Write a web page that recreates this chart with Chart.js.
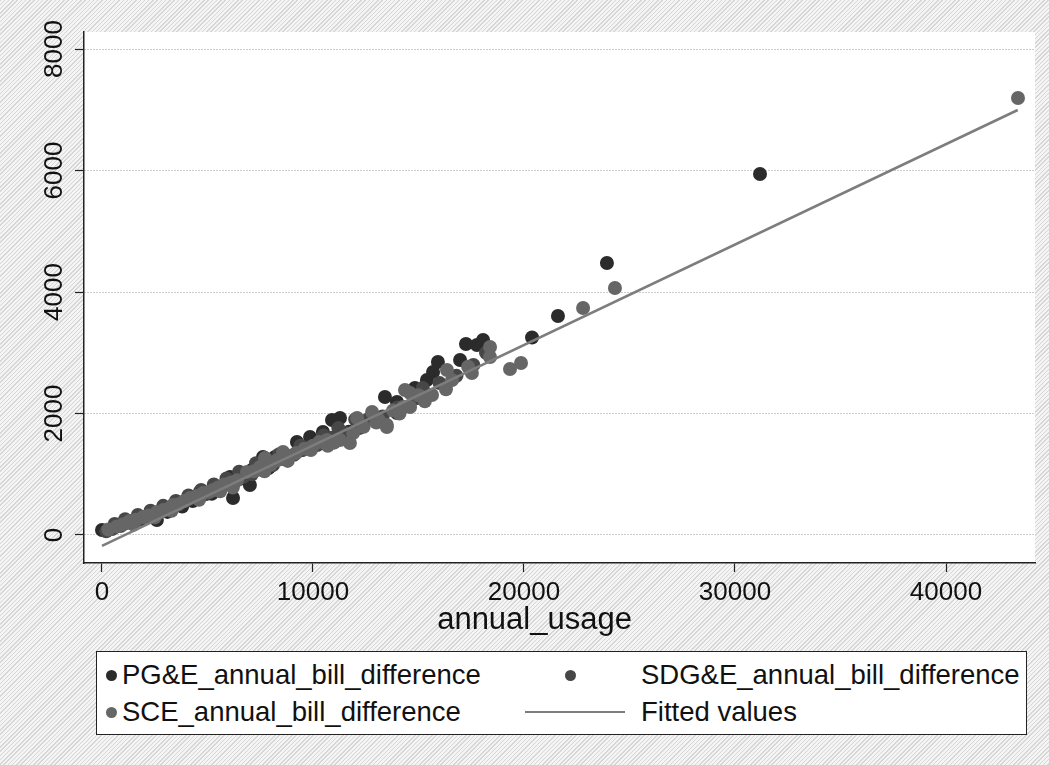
<!DOCTYPE html>
<html>
<head>
<meta charset="utf-8">
<script src="https://cdn.jsdelivr.net/npm/chart.js@4/dist/chart.umd.min.js"></script>
<style>
  html, body { margin: 0; padding: 0; }
  body {
    width: 1049px; height: 765px; position: relative; overflow: hidden;
    background: repeating-linear-gradient(135deg, #d6d6d6 0px, #d6d6d6 1px, #f4f4f4 1px, #f4f4f4 3px);
    font-family: "Liberation Sans", Arial, sans-serif;
  }
  #grafico { position: absolute; left: 0; top: 0; }
  #legenda {
    position: absolute; left: 96px; top: 651px; width: 929px; height: 82px;
    background: #fff; border: 1.5px solid #222;
  }
  .item { position: absolute; font-size: 27.5px; color: #111; line-height: 30px; white-space: nowrap; }
  .ponto { position: absolute; width: 11px; height: 11px; border-radius: 50%; }
  .linha { position: absolute; height: 2px; width: 100px; background: #7a7a7a; }
</style>
</head>
<body>
<canvas id="grafico" width="1049" height="765"></canvas>
<div id="legenda"></div>
<script>
var seriesLabels = ['PG&E_annual_bill_difference', 'SDG&E_annual_bill_difference', 'SCE_annual_bill_difference', 'Fitted values'];
var xTitulo = 'annual_usage';
var xTickValues = [0, 10000, 20000, 30000, 40000];
var yTickValues = [0, 2000, 4000, 6000, 8000];

var pgeUsage = [0, 600, 1330, 1800, 2300, 2600, 3100, 3800, 4300, 4640, 5200, 5700, 6070, 6210, 6600, 7010, 7100, 7630, 7900, 8200, 8600, 9240, 9500, 9860, 10470, 10900, 11000, 11280, 11700, 12300, 12900, 13410, 13980, 13980, 14830, 15400, 15690, 15920, 16970, 17250, 17770, 18060, 20380, 21610, 23930, 31185];
var pgeDiff = [82, 130, 214, 260, 310, 247, 380, 470, 560, 708, 680, 800, 955, 609, 930, 823, 1070, 1284, 1100, 1284, 1250, 1530, 1400, 1613, 1695, 1893, 1600, 1926, 1700, 1800, 1900, 2272, 2190, 2008, 2420, 2551, 2683, 2848, 2880, 3144, 3127, 3210, 3250, 3605, 4477, 5942];

var sdgeUsage = [200, 500, 600, 900, 1100, 1200, 1500, 1700, 1800, 2100, 2300, 2400, 2800, 2900, 3000, 3400, 3500, 3700, 4000, 4100, 4400, 4700, 4900, 5300, 5400, 5900, 5900, 6300, 6500, 6700, 7100, 7300, 7500, 7800, 8100, 8400, 8700, 9100, 9400, 9700, 10200, 10500, 10800, 11200, 11500, 12000, 12200, 12600, 13300, 14000, 14900, 15200, 16000, 16800, 17600, 18200];
var sdgeDiff = [60, 100, 180, 150, 260, 200, 240, 330, 270, 300, 400, 350, 390, 480, 450, 470, 560, 520, 570, 650, 620, 740, 670, 830, 760, 840, 930, 880, 1040, 960, 1000, 1180, 1080, 1250, 1150, 1330, 1260, 1320, 1470, 1440, 1480, 1640, 1600, 1760, 1680, 1900, 1760, 1900, 1950, 2100, 2250, 2420, 2500, 2620, 2800, 3000];

var sceUsage = [300, 700, 1000, 1300, 1500, 1600, 1940, 2200, 2500, 2600, 2900, 3200, 3300, 3360, 3600, 3900, 4170, 4500, 4600, 4800, 5100, 5260, 5500, 5600, 5800, 6100, 6200, 6400, 6870, 7200, 7490, 7700, 7720, 8000, 8300, 8580, 8800, 8900, 9200, 9600, 9900, 10000, 10300, 10660, 10700, 11000, 11280, 11750, 11900, 12090, 12400, 12800, 13000, 13100, 13500, 13500, 13800, 14100, 14270, 14360, 14600, 14600, 15000, 15300, 15640, 16300, 16350, 16590, 17350, 17530, 18390, 18390, 19336, 19858, 22800, 24310, 43412];
var sceDiff = [90, 140, 175, 230, 170, 250, 296, 320, 290, 378, 410, 440, 400, 494, 500, 560, 609, 640, 580, 690, 710, 741, 780, 720, 830, 860, 780, 900, 1037, 1050, 1119, 1050, 1267, 1160, 1230, 1366, 1220, 1300, 1350, 1420, 1400, 1470, 1530, 1564, 1470, 1520, 1564, 1514, 1680, 1926, 1780, 2025, 1850, 1900, 1811, 1778, 2050, 2000, 2107, 2387, 2337, 2107, 2300, 2200, 2304, 2400, 2716, 2551, 2770, 2667, 3095, 2930, 2732, 2831, 3737, 4066, 7193];

var fitUsage = [0, 43400];
var fitValues = [-181, 6996];

var cores = ['#2b2b2b', '#474747', '#666666', '#7d7d7d'];
var fonte = '"Liberation Sans", Arial, sans-serif';

function pontos(xs, ys) {
    return xs.map(function(x, i) { return { x: x, y: ys[i] }; });
}

// fundo branco so na area do grafico
var fundoArea = {
    id: 'fundoArea',
    beforeDraw: function(chart) {
        var a = chart.chartArea, ctx = chart.ctx;
        ctx.save();
        ctx.fillStyle = '#fff';
        ctx.fillRect(a.left, a.top, a.right - a.left, a.bottom - a.top);
        ctx.restore();
    }
};

// rotulos do eixo y na vertical e titulo do eixo x
var rotulos = {
    id: 'rotulos',
    afterDraw: function(chart) {
        var ctx = chart.ctx, sy = chart.scales.y, sx = chart.scales.x;
        ctx.save();
        ctx.font = '26px ' + fonte;
        ctx.fillStyle = '#111';
        ctx.textAlign = 'center';
        ctx.textBaseline = 'middle';
        yTickValues.forEach(function(v) {
            ctx.save();
            ctx.translate(55, sy.getPixelForValue(v));
            ctx.rotate(-Math.PI / 2);
            ctx.fillText(String(v), 0, 0);
            ctx.restore();
        });
        ctx.font = '31px ' + fonte;
        ctx.fillText(xTitulo, sx.getPixelForValue(20500), 620);
        ctx.restore();
    }
};

function renderizarGrafico() {
    var ctx = document.getElementById('grafico').getContext('2d');
    window.grafico = new Chart(ctx, {
        type: 'scatter',
        data: {
            datasets: [{
                label: seriesLabels[0],
                data: pontos(pgeUsage, pgeDiff),
                backgroundColor: cores[0], borderColor: cores[0],
                pointRadius: 7, borderWidth: 0, order: 3
            }, {
                label: seriesLabels[1],
                data: pontos(sdgeUsage, sdgeDiff),
                backgroundColor: cores[1], borderColor: cores[1],
                pointRadius: 7, borderWidth: 0, order: 2
            }, {
                label: seriesLabels[2],
                data: pontos(sceUsage, sceDiff),
                backgroundColor: cores[2], borderColor: cores[2],
                pointRadius: 7, borderWidth: 0, order: 1
            }, {
                type: 'line',
                label: seriesLabels[3],
                data: pontos(fitUsage, fitValues),
                borderColor: cores[3], borderWidth: 2.5,
                pointRadius: 0, fill: false, order: 0
            }]
        },
        options: {
            responsive: false,
            animation: false,
            layout: { padding: { top: 32, right: 14, bottom: 122, left: 0 } },
            plugins: { legend: { display: false }, tooltip: { enabled: false } },
            scales: {
                x: {
                    type: 'linear', min: -853, max: 44218,
                    afterFit: function(s) { s.height = 80; },
                    afterBuildTicks: function(s) { s.ticks = xTickValues.map(function(v) { return { value: v }; }); },
                    grid: { drawOnChartArea: false, tickLength: 9, tickColor: '#222', tickWidth: 1.2 },
                    border: { color: '#222', width: 1.5 },
                    ticks: {
                        padding: 5, color: '#111', maxRotation: 0,
                        font: { size: 26, family: fonte },
                        callback: function(v) { return String(v); }
                    }
                },
                y: {
                    type: 'linear', min: -461, max: 8280,
                    afterFit: function(s) { s.width = 84; },
                    afterBuildTicks: function(s) { s.ticks = yTickValues.map(function(v) { return { value: v }; }); },
                    grid: { color: '#9a9a9a', lineWidth: 1, tickLength: 9, tickColor: '#222', tickWidth: 1.2 },
                    border: { color: '#222', width: 1.5, dash: [1, 2] },
                    ticks: { display: false }
                }
            }
        },
        plugins: [fundoArea, rotulos]
    });
}

function montarLegenda() {
    var leg = document.getElementById('legenda');
    var itens = [
        { tipo: 'ponto', cor: cores[0], texto: seriesLabels[0], mx: 9, tx: 25, y: 8 },
        { tipo: 'ponto', cor: cores[1], texto: seriesLabels[1], mx: 468, tx: 544, y: 8 },
        { tipo: 'ponto', cor: cores[2], texto: seriesLabels[2], mx: 9, tx: 25, y: 45 },
        { tipo: 'linha', cor: cores[3], texto: seriesLabels[3], mx: 428, tx: 544, y: 45 }
    ];
    itens.forEach(function(it) {
        var m = document.createElement('div');
        m.className = it.tipo;
        m.style.background = it.cor;
        m.style.left = it.mx + 'px';
        m.style.top = (it.y + (it.tipo === 'ponto' ? 10 : 14)) + 'px';
        leg.appendChild(m);
        var t = document.createElement('div');
        t.className = 'item';
        t.textContent = it.texto;
        t.style.left = it.tx + 'px';
        t.style.top = it.y + 'px';
        leg.appendChild(t);
    });
}

window.onload = function() {
    renderizarGrafico();
    montarLegenda();
}
</script>
</body>
</html>
